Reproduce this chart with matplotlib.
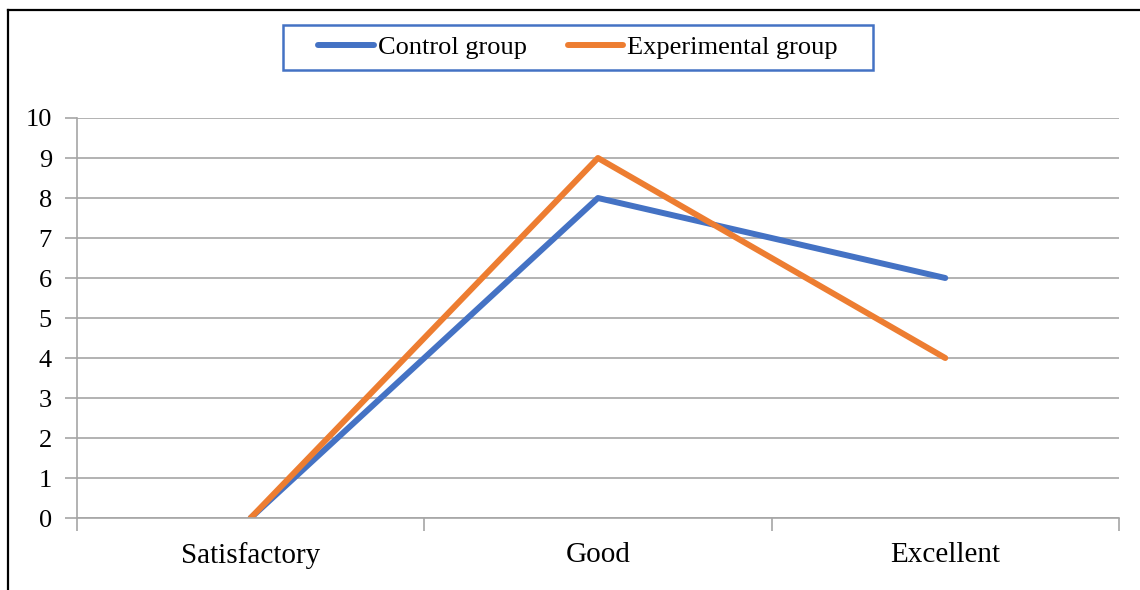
import matplotlib.pyplot as plt
from matplotlib.lines import Line2D
from matplotlib.patches import Rectangle

# -------------------------
# Data
# -------------------------
categories = ['Satisfactory', 'Good', 'Excellent']
control = [0, 8, 6]
experimental = [0, 9, 4]

blue = '#4472C4'
orange = '#ED7D31'
grid_col = '#A6A6A6'

plt.rcParams['font.family'] = ['Liberation Serif', 'DejaVu Serif']

W, H = 1140, 590

# -------------------------
# Plotting
# -------------------------
fig = plt.figure(figsize=(W / 100, H / 100), dpi=100)
ax = fig.add_axes([0.0675, 0.122, 0.914, 0.678])

x = range(len(categories))
ax.plot(x, control, color=blue, lw=4.3, label='Control group', solid_capstyle='round')
ax.plot(x, experimental, color=orange, lw=4.3, label='Experimental group', solid_capstyle='round')

ax.set_xlim(-0.5, len(categories) - 0.5)
ax.set_ylim(0, 10)
ax.set_yticks(range(0, 11))
ax.set_xticks(list(x))
ax.set_xticklabels(categories, fontsize=21)
ax.set_xticks([i - 0.5 for i in range(len(categories) + 1)], minor=True)
ax.tick_params(axis='x', which='major', length=0, pad=17)
ax.tick_params(axis='x', which='minor', length=9, color=grid_col, width=1.2)
ax.tick_params(axis='y', length=9, color=grid_col, width=1.2, labelsize=19, pad=9)

ax.grid(axis='y', color=grid_col, lw=1.2)
ax.set_axisbelow(True)
for side in ['top', 'right']:
    ax.spines[side].set_visible(False)
for side in ['left', 'bottom']:
    ax.spines[side].set_color(grid_col)
    ax.spines[side].set_linewidth(1.2)

# legend without frame, box drawn separately
leg = fig.legend(loc='center', bbox_to_anchor=(578 / W, 1 - 47.5 / H), ncol=2,
                 fontsize=19, frameon=False,
                 handlelength=2.1, handletextpad=0.15, columnspacing=1.55,
                 borderpad=0.3)
for h in leg.legend_handles:
    h.set_linewidth(4.3)
fig.add_artist(Rectangle((283 / W, 1 - 70 / H), 590 / W, 45 / H, fill=False,
                         edgecolor=blue, lw=1.8, transform=fig.transFigure))

# outer frame lines (top and left)
fig.add_artist(Line2D([0.007, 1.0], [0.983, 0.983], color='black', lw=1.6,
                      transform=fig.transFigure))
fig.add_artist(Line2D([0.007, 0.007], [0.0, 0.983], color='black', lw=1.6,
                      transform=fig.transFigure))

fig.savefig('out.png', dpi=100)
